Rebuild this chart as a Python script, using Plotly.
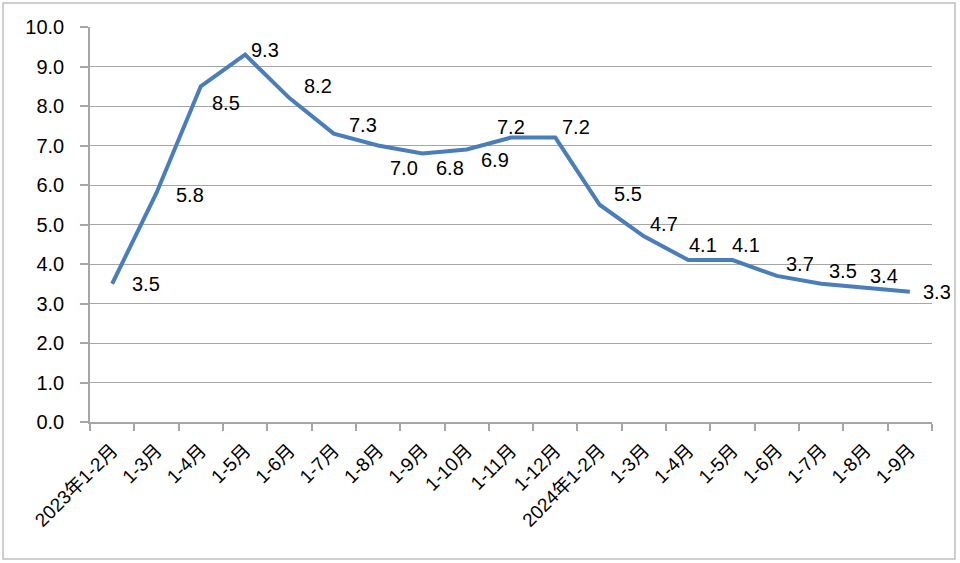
import plotly.graph_objects as go

categories = ["2023年1-2月", "1-3月", "1-4月", "1-5月", "1-6月", "1-7月", "1-8月", "1-9月",
              "1-10月", "1-11月", "1-12月", "2024年1-2月", "1-3月", "1-4月", "1-5月",
              "1-6月", "1-7月", "1-8月", "1-9月"]
values = [3.5, 5.8, 8.5, 9.3, 8.2, 7.3, 7.0, 6.8, 6.9, 7.2, 7.2, 5.5, 4.7, 4.1, 4.1, 3.7, 3.5, 3.4, 3.3]
y_ticks = [0, 1, 2, 3, 4, 5, 6, 7, 8, 9, 10]

# label offsets (pixels) for data labels
label_dx = [34, 34, 25, 20, 29, 29, 26, 28, 28, 0, 21, 28, 20, 15, 13, 23, 22, 18, 27]
label_dy = [0, -2, -17, 5, 12, 9, -22, -15, -11, 11, 11, 11, 12, 15, 15, 12, 13, 12, 0]

FONT = "Liberation Sans, Noto Sans CJK SC, sans-serif"
xs = list(range(len(categories)))

fig = go.Figure()
fig.add_trace(go.Scatter(x=xs, y=values, mode="lines",
                         line=dict(color="#4a7ebb", width=4), hoverinfo="skip"))

for x, v, dx, dy in zip(xs, values, label_dx, label_dy):
    fig.add_annotation(x=x, y=v, text=f"{v:.1f}", showarrow=False,
                       xshift=dx, yshift=dy, font=dict(family=FONT, size=20, color="#000"))

fig.add_shape(type="rect", xref="paper", yref="paper",
              x0=-0.1033, x1=1.0273, y0=-0.347, y1=1.0608,
              line=dict(color="#bfbfbf", width=1.5), layer="below")

fig.update_layout(
    width=960, height=563,
    margin=dict(l=90, r=28, t=27, b=141),
    paper_bgcolor="white", plot_bgcolor="white",
    showlegend=False,
    font=dict(family=FONT, size=20, color="#000"),
    xaxis=dict(
        range=[-0.5, len(categories) - 0.5],
        tickmode="array", tickvals=xs, ticktext=categories,
        tickangle=-45, ticks="", showgrid=False, zeroline=False,
        showline=True, linecolor="#a6a6a6", linewidth=1.5,
        tickfont=dict(family=FONT, size=19),
        ticklabelstandoff=8,
        minor=dict(ticks="outside", tick0=-0.5, dtick=1, ticklen=7,
                   tickcolor="#a6a6a6", tickwidth=1.5, showgrid=False),
    ),
    yaxis=dict(
        range=[0, 10], tickmode="array", tickvals=y_ticks,
        ticktext=[f"{t:.1f}" for t in y_ticks],
        showgrid=True, gridcolor="#a6a6a6", gridwidth=1.2,
        showline=True, linecolor="#a6a6a6", linewidth=1.5,
        ticks="outside", ticklen=8, tickcolor="#a6a6a6", tickwidth=1.5,
        ticklabelstandoff=12,
        zeroline=False, tickfont=dict(family=FONT, size=20),
    ),
)

fig.write_html("out.html")
